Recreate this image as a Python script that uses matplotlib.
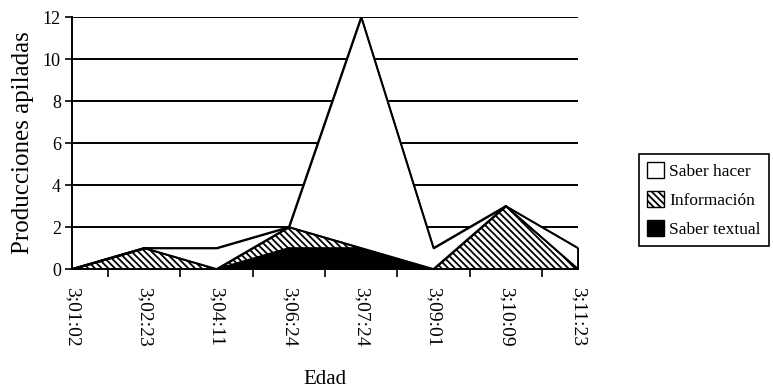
import matplotlib
matplotlib.use("Agg")
import matplotlib.pyplot as plt
import numpy as np
from matplotlib.patches import Patch

plt.rcParams['font.family'] = ['Liberation Serif', 'DejaVu Serif']
plt.rcParams['hatch.linewidth'] = 1.3

categories = ["3;01:02", "3;02:23", "3;04:11", "3;06:24", "3;07:24", "3;09:01", "3;10:09", "3;11:23"]
saber_textual = [0, 0, 0, 1, 1, 0, 0, 0]
informacion = [0, 1, 0, 1, 0, 0, 3, 0]
saber_hacer = [0, 0, 1, 0, 11, 1, 0, 1]
yticks = [0, 2, 4, 6, 8, 10, 12]

HATCH = '\\\\\\\\\\'

fig = plt.figure(figsize=(7.73, 3.90), dpi=100)
ax = fig.add_axes([72/773, 1-269/390, (578-72)/773, (269-17)/390])

x = np.arange(len(categories))
s1 = np.array(saber_textual, dtype=float)
s2 = s1 + np.array(informacion, dtype=float)
s3 = s2 + np.array(saber_hacer, dtype=float)

for yv in yticks[1:]:
    ax.axhline(yv, color='black', lw=1.4, zorder=1)

ax.fill_between(x, 0, s1, facecolor='black', edgecolor='black', lw=1.2, zorder=3)
ax.fill_between(x, s1, s2, facecolor='white', edgecolor='black', hatch=HATCH, lw=1.2, zorder=3)
ax.fill_between(x, s2, s3, facecolor='white', edgecolor='black', lw=1.2, zorder=3)
ax.plot(x, s3, color='black', lw=1.3, zorder=4)
ax.plot(x, s2, color='black', lw=1.3, zorder=4)
ax.plot([x[-1], x[-1]], [0, s3[-1]], color='black', lw=1.3, zorder=4)

ax.set_xlim(0, len(categories) - 1)
ax.set_ylim(0, 12)
ax.set_yticks(yticks)
ax.set_yticklabels([str(v) for v in yticks], fontsize=13)
ax.set_xticks(x)
ax.set_xticklabels(categories, rotation=270, fontsize=14, va='top', ha='center')
ax.set_xticks(x[:-1] + 0.5, minor=True)
ax.tick_params(axis='x', which='major', length=0, pad=13)
ax.tick_params(axis='x', which='minor', length=6, width=1.2, direction='out')
ax.tick_params(axis='y', length=5, width=1.2, direction='out', pad=3)

for sp in ['right', 'top']:
    ax.spines[sp].set_visible(False)
ax.spines['left'].set_linewidth(1.4)
ax.spines['bottom'].set_linewidth(1.4)
ax.spines['left'].set_zorder(5)
ax.spines['bottom'].set_zorder(5)

ax.set_ylabel("Producciones apiladas", fontsize=18, labelpad=6)
fig.text(325/773, 1-380/390, "Edad", fontsize=15, ha='center', va='center')

handles = [Patch(facecolor='white', edgecolor='black', label='Saber hacer'),
           Patch(facecolor='white', edgecolor='black', hatch=HATCH, label='Información'),
           Patch(facecolor='black', edgecolor='black', label='Saber textual')]
leg = fig.legend(handles=handles, loc='upper left', bbox_to_anchor=(639/773, 1-154/390),
                 borderaxespad=0, fancybox=False, edgecolor='black', fontsize=12.5,
                 handlelength=1.0, handleheight=1.05, handletextpad=0.3,
                 borderpad=0.45, labelspacing=0.65, framealpha=1)
leg.get_frame().set_linewidth(1.2)

fig.savefig("out.png", dpi=100)
